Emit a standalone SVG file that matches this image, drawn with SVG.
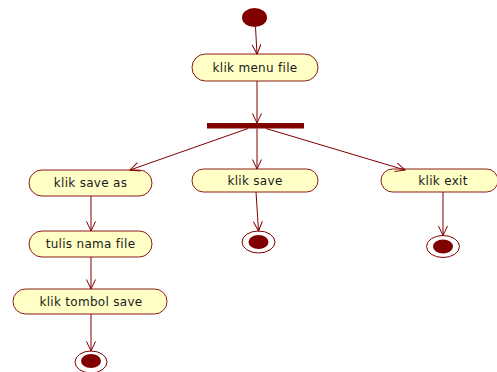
<svg xmlns="http://www.w3.org/2000/svg" width="497" height="372" viewBox="0 0 497 372">
<style>
.act rect{fill:#FFFFC6;stroke:#8B1A1A;stroke-width:1}
.act text{font-family:"DejaVu Sans",Verdana,sans-serif;font-size:12px;letter-spacing:0.3px;fill:#1a1a1a;text-anchor:middle;dominant-baseline:central}
.conn line{stroke:#800000;stroke-width:1;fill:none;marker-end:url(#arr)}
.solid{fill:#800000}
.ring{fill:#fff;stroke:#800000;stroke-width:1}
</style>
<defs>
<marker id="arr" markerUnits="userSpaceOnUse" markerWidth="14" markerHeight="14" refX="10" refY="5" orient="auto">
<path d="M0.5,0.5 L10,5 L0.5,9.5" fill="none" stroke="#800000" stroke-width="1"/>
</marker>
</defs>
<rect width="497" height="372" fill="#fff"/>
<g id="start"><ellipse class="solid" cx="254.5" cy="17.5" rx="12.5" ry="9.5"/></g>
<g id="menu" class="act"><rect x="192" y="54" width="126" height="27" rx="13.5"/><text x="255" y="67.5">klik menu file</text></g>
<g id="fork"><rect class="solid" x="207" y="123" width="97" height="5.5"/></g>
<g id="saveas" class="act"><rect x="29" y="170" width="123" height="26" rx="13"/><text x="90.5" y="183">klik save as</text></g>
<g id="save" class="act"><rect x="192" y="169" width="126" height="23" rx="11.5"/><text x="255" y="180.5">klik save</text></g>
<g id="exit" class="act"><rect x="381" y="169" width="117" height="23" rx="11.5"/><text x="443" y="180.5">klik exit</text></g>
<g id="tulis" class="act"><rect x="29" y="231" width="123" height="26" rx="13"/><text x="90.5" y="244">tulis nama file</text></g>
<g id="tombol" class="act"><rect x="13" y="289" width="154" height="25" rx="12.5"/><text x="91" y="301.5">klik tombol save</text></g>
<g id="end1"><ellipse class="ring" cx="91" cy="362" rx="16" ry="11"/><ellipse class="solid" cx="91" cy="361" rx="10" ry="7"/></g>
<g id="end2"><ellipse class="ring" cx="258.5" cy="242" rx="16.5" ry="11"/><ellipse class="solid" cx="258.5" cy="242" rx="10" ry="7"/></g>
<g id="end3"><ellipse class="ring" cx="443" cy="246.5" rx="16.5" ry="11"/><ellipse class="solid" cx="443" cy="246.5" rx="10" ry="7"/></g>
<g id="connectors" class="conn">
<line x1="255.5" y1="27" x2="257" y2="54"/>
<line x1="257" y1="81" x2="257" y2="123"/>
<line x1="248" y1="128.5" x2="130" y2="170"/>
<line x1="257" y1="128.5" x2="257" y2="169"/>
<line x1="266" y1="128.5" x2="405" y2="170"/>
<line x1="91" y1="196" x2="91" y2="231"/>
<line x1="91" y1="257" x2="91" y2="289"/>
<line x1="91" y1="314" x2="91" y2="351"/>
<line x1="256" y1="192" x2="258.5" y2="231"/>
<line x1="443" y1="192" x2="443" y2="235.5"/>
</g>
</svg>
